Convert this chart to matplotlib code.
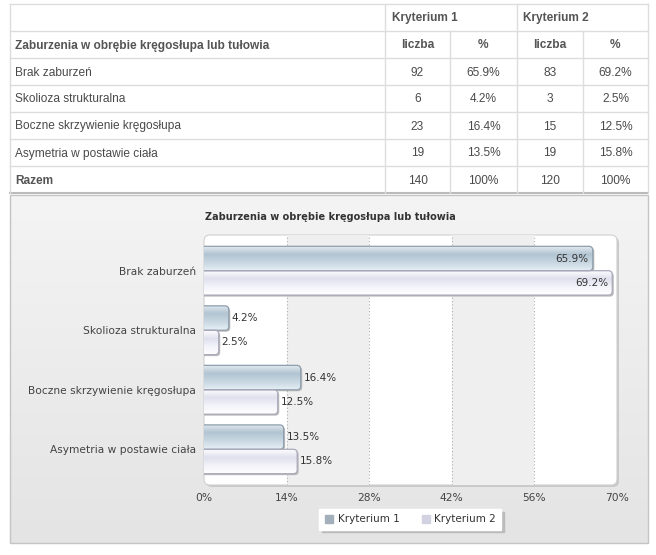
import numpy as np
import matplotlib
matplotlib.use('Agg')
import matplotlib.pyplot as plt
from matplotlib.patches import Rectangle, FancyBboxPatch
from matplotlib.colors import LinearSegmentedColormap
from matplotlib.lines import Line2D

categories = ['Brak zaburzeń', 'Skolioza strukturalna',
              'Boczne skrzywienie kręgosłupa', 'Asymetria w postawie ciała']
series = ['Kryterium 1', 'Kryterium 2']
k1_count = [92, 6, 23, 19]
k1_pct = [65.9, 4.2, 16.4, 13.5]
k2_count = [83, 3, 15, 19]
k2_pct = [69.2, 2.5, 12.5, 15.8]
totals = [140, 120]
x_ticks = [0, 14, 28, 42, 56, 70]
title = 'Zaburzenia w obrębie kręgosłupa lub tułowia'

TABLE_FONT = ['Liberation Sans', 'DejaVu Sans']
CHART_FONT = ['DejaVu Sans']

fig = plt.figure(figsize=(6.56, 5.55), dpi=100)

# background layer in pixel coordinates (table + chart panel)
bg = fig.add_axes([0, 0, 1, 1])
bg.set_xlim(0, 656)
bg.set_ylim(555, 0)
bg.axis('off')

# ---- table ----
row_h = 27
top = 4
cols = [10, 385, 450, 517, 583, 648]
line_c = '#dddddd'
bg.plot([cols[0], cols[-1]], [top, top], color=line_c, lw=1)
for i in range(1, 7):
    bg.plot([cols[0], cols[-1]], [top + i * row_h] * 2, color=line_c, lw=1)
bg.plot([cols[0], cols[-1]], [top + 7 * row_h] * 2, color='#bbbbbb', lw=1.5)
for x in [cols[0], cols[1], cols[3], cols[5]]:
    bg.plot([x, x], [top, top + 7 * row_h], color=line_c, lw=1)
for x in [cols[2], cols[4]]:
    bg.plot([x, x], [top + row_h, top + 7 * row_h], color=line_c, lw=1)

hdr_c = '#555555'
txt_c = '#4a4a4a'
fs = 8.6
bg.text(cols[1] + 7, top + row_h / 2 + 1, series[0], fontsize=fs, fontweight='bold',
        color=hdr_c, va='center', family=TABLE_FONT)
bg.text(cols[3] + 6, top + row_h / 2 + 1, series[1], fontsize=fs, fontweight='bold',
        color=hdr_c, va='center', family=TABLE_FONT)
y = top + row_h * 1.5 + 1
bg.text(15, y, title, fontsize=fs, fontweight='bold', color=hdr_c,
        va='center', family=TABLE_FONT)
for j, lab in enumerate(['liczba', '%', 'liczba', '%']):
    bg.text((cols[j + 1] + cols[j + 2]) / 2, y, lab, fontsize=fs, fontweight='bold',
            color=hdr_c, va='center', ha='center', family=TABLE_FONT)

rows = [[c, str(a), f'{b}%', str(d), f'{e}%']
        for c, a, b, d, e in zip(categories, k1_count, k1_pct, k2_count, k2_pct)]
rows.append(['Razem', str(totals[0]), '100%', str(totals[1]), '100%'])
for i, r in enumerate(rows):
    y = top + row_h * (i + 2.5) + 1
    bold = i == len(rows) - 1
    bg.text(15, y, r[0], fontsize=fs, color=hdr_c if bold else txt_c,
            fontweight='bold' if bold else 'normal', va='center', family=TABLE_FONT)
    for j in range(4):
        bg.text((cols[j + 1] + cols[j + 2]) / 2, y, r[j + 1], fontsize=fs, color=txt_c,
                va='center', ha='center', family=TABLE_FONT)

# ---- chart panel ----
grad = np.linspace(0, 1, 100).reshape(-1, 1)
panel_cmap = LinearSegmentedColormap.from_list('panel', ['#f4f4f4', '#e4e4e4'])
bg.imshow(grad, cmap=panel_cmap, extent=[10, 648, 543, 195], aspect='auto', zorder=0)
bg.add_patch(Rectangle((10, 195), 638, 348, fc='none', ec='#c4c4c4', lw=1, zorder=1))
bg.set_xlim(0, 656)
bg.set_ylim(555, 0)

bg.text(330, 217, title, fontsize=7, fontweight='bold', color='#333333',
        ha='center', va='center', family=CHART_FONT)

# plot area with shadow
bg.add_patch(FancyBboxPatch((206, 237), 413, 250, boxstyle='round,pad=0,rounding_size=6',
                            fc='#c9c9c9', ec='none', zorder=1))
bg.add_patch(FancyBboxPatch((204, 235), 413, 250, boxstyle='round,pad=0,rounding_size=6',
                            fc='white', ec='#d0d0d0', lw=0.8, zorder=2))

ax = fig.add_axes([204 / 656, 1 - 485 / 555, 413 / 656, 250 / 555])
ax.patch.set_alpha(0)

for k in range(0, len(x_ticks) - 1):
    if k % 2 == 1:
        ax.axvspan(x_ticks[k], x_ticks[k + 1], color='#efefef', zorder=0, lw=0)
for t in x_ticks[1:-1]:
    ax.axvline(t, color='#b0b0b0', ls=(0, (1, 2)), lw=0.8, zorder=1)

cmaps = [
    LinearSegmentedColormap.from_list('k1', ['#e3ebf1', '#b2c4d2', '#c8d7e2', '#e6eff5']),
    LinearSegmentedColormap.from_list('k2', ['#ffffff', '#e0e0ee', '#f3f3fa', '#ffffff']),
]
edges = ['#8e9eac', '#a9a9ba']
bar_h = 0.41
xpx = 413 / 70.0
ypx = 250 / 4.2
asp = xpx / ypx
r = 4 / xpx

for s, vals in enumerate([k1_pct, k2_pct]):
    for i, v in enumerate(vals):
        y0 = i - bar_h + s * bar_h
        sh = FancyBboxPatch((-2 + 1.5 / xpx, y0 + 1.5 / ypx), v + 2, bar_h,
                            boxstyle=f'round,pad=0,rounding_size={r}',
                            mutation_aspect=asp, fc='#bcbcbc', ec='none', zorder=2)
        ax.add_patch(sh)
        patch = FancyBboxPatch((-2, y0), v + 2, bar_h,
                               boxstyle=f'round,pad=0,rounding_size={r}',
                               mutation_aspect=asp, fc='none', ec=edges[s],
                               lw=0.9, zorder=4)
        ax.add_patch(patch)
        im = ax.imshow(grad, cmap=cmaps[s], extent=[-2, v, y0 + bar_h, y0],
                       aspect='auto', zorder=3)
        im.set_clip_path(patch)
        label = f'{v}%'
        if v > 50:
            ax.text(v - 0.7, y0 + bar_h / 2, label, ha='right', va='center',
                    fontsize=7.5, color='#333333', zorder=5, family=CHART_FONT)
        else:
            ax.text(v + 0.5, y0 + bar_h / 2, label, ha='left', va='center',
                    fontsize=7.5, color='#333333', zorder=5, family=CHART_FONT)

ax.set_xlim(0, 70)
ax.set_ylim(3.6, -0.6)
ax.set_xticks(x_ticks)
ax.set_xticklabels([f'{t}%' for t in x_ticks])
ax.set_yticks(range(len(categories)))
ax.set_yticklabels(categories)
ax.tick_params(length=0, labelsize=7.7, labelcolor='#444444', pad=6)
for lab in ax.get_xticklabels() + ax.get_yticklabels():
    lab.set_family(CHART_FONT)
for sp in ax.spines.values():
    sp.set_visible(False)

handles = [Line2D([], [], marker='s', ls='', color=c, markersize=5.5)
           for c in ['#a3b0bc', '#d2d2e2']]
leg = fig.legend(handles, series, loc='center', ncol=2,
                 bbox_to_anchor=(410 / 656, 1 - 519.5 / 555),
                 prop={'family': CHART_FONT, 'size': 7.5},
                 frameon=True, fancybox=False, shadow={'color': '#bbbbbb', 'alpha': 1},
                 handletextpad=0.3, columnspacing=2.0, borderpad=0.5, handlelength=1.0)
leg.get_frame().set_facecolor('white')
leg.get_frame().set_edgecolor('white')
for t in leg.get_texts():
    t.set_color('#333333')

fig.savefig('out.png', dpi=100)
